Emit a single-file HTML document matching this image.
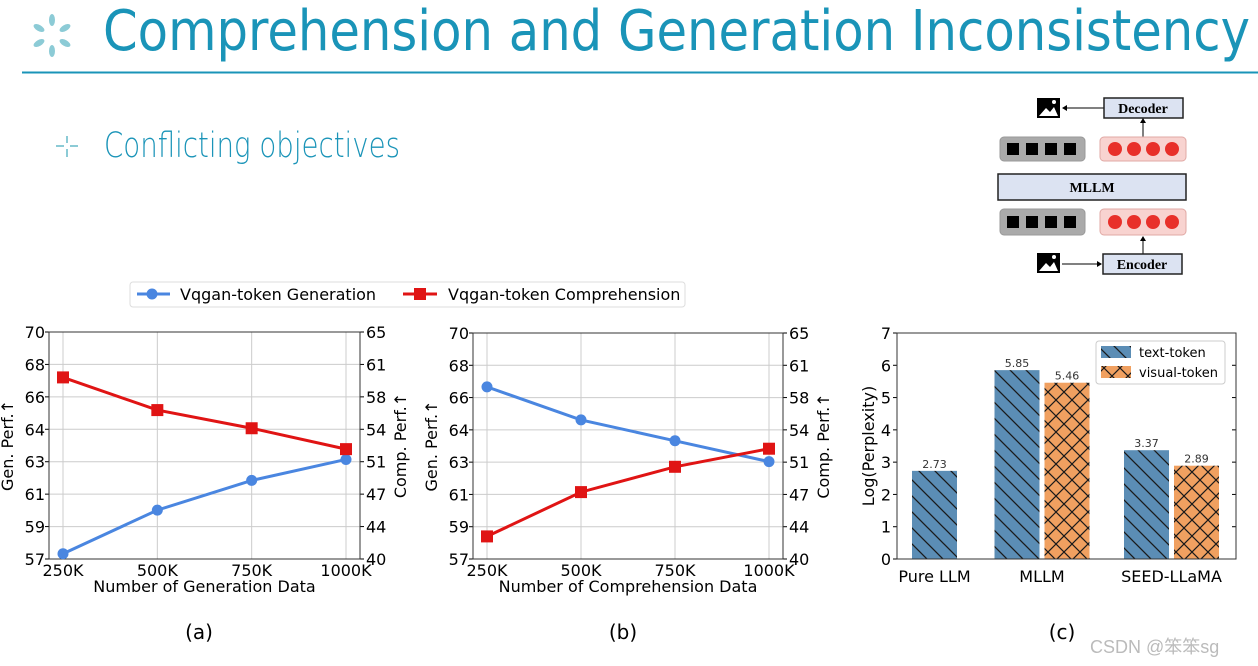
<!DOCTYPE html>
<html><head><meta charset="utf-8">
<style>
body{margin:0;width:1258px;height:666px;background:#fff;overflow:hidden;position:relative;font-family:"Liberation Sans",sans-serif}
.t{position:absolute;color:#1a94b8;white-space:nowrap}
</style></head><body>
<svg id="deco" width="1258" height="666" style="position:absolute;left:0;top:0">
 <g fill="#8ccbd6">
  <ellipse cx="52" cy="20" rx="3" ry="6"/><ellipse cx="52" cy="51" rx="3" ry="6"/>
  <ellipse cx="39" cy="28" rx="6" ry="3" transform="rotate(30 39 28)"/><ellipse cx="65" cy="28" rx="6" ry="3" transform="rotate(-30 65 28)"/>
  <ellipse cx="39" cy="43" rx="6" ry="3" transform="rotate(-30 39 43)"/><ellipse cx="65" cy="43" rx="6" ry="3" transform="rotate(30 65 43)"/>
 </g>
 <text x="103" y="50" font-size="56" fill="#1a94b8" font-family="DejaVu Sans, sans-serif" textLength="1147" lengthAdjust="spacingAndGlyphs">Comprehension and Generation Inconsistency</text>
 <text x="104" y="157" font-size="35" fill="#1a94b8" font-family="DejaVu Sans, sans-serif" font-weight="300" textLength="296" lengthAdjust="spacingAndGlyphs">Conflicting objectives</text>
 <line x1="22" y1="72.5" x2="1258" y2="72.5" stroke="#1a94b8" stroke-width="2"/>
 <g stroke="#8ccbd6" stroke-width="2">
  <line x1="56" y1="146" x2="64" y2="146"/><line x1="70" y1="146" x2="78" y2="146"/><line x1="67" y1="136" x2="67" y2="143"/><line x1="67" y1="149" x2="67" y2="157"/>
 </g>
 <g font-family="Liberation Serif,serif" font-weight="bold" font-size="14">
  <g><rect x="1037" y="98" width="23" height="20" fill="#000"/><path d="M1039 116 L1046 108 L1050 112 L1054 107 L1058 116Z" fill="#fff"/><circle cx="1054" cy="102" r="2" fill="#fff"/></g>
  <line x1="1104" y1="108" x2="1064" y2="108" stroke="#000"/><path d="M1062 108 l5 -3 v6z"/>
  <rect x="1104" y="98" width="79" height="20" fill="#dce3f2" stroke="#222" stroke-width="1.5"/>
  <text x="1143" y="113" text-anchor="middle">Decoder</text>
  <line x1="1143" y1="137" x2="1143" y2="121" stroke="#000"/><path d="M1143 118 l-3 5 h6z"/>
  <rect x="1000" y="137" width="85" height="24" rx="4" fill="#aaa" stroke="#999"/>
  <rect x="1100" y="137" width="86" height="24" rx="4" fill="#f8d3d0" stroke="#e0a8a4"/>
  <rect x="998" y="174" width="188" height="26" fill="#dce3f2" stroke="#222" stroke-width="1.5"/>
  <text x="1092" y="192" text-anchor="middle">MLLM</text>
  <rect x="1000" y="209" width="85" height="26" rx="4" fill="#aaa" stroke="#999"/>
  <rect x="1100" y="209" width="86" height="26" rx="4" fill="#f8d3d0" stroke="#e0a8a4"/>
  <line x1="1143" y1="254" x2="1143" y2="239" stroke="#000"/><path d="M1143 236 l-3 5 h6z"/>
  <rect x="1103" y="254" width="79" height="20" fill="#dce3f2" stroke="#222" stroke-width="1.5"/>
  <text x="1142" y="269" text-anchor="middle">Encoder</text>
  <g><rect x="1037" y="253" width="23" height="20" fill="#000"/><path d="M1039 271 L1046 263 L1050 267 L1054 262 L1058 271Z" fill="#fff"/><circle cx="1054" cy="257" r="2" fill="#fff"/></g>
  <line x1="1062" y1="264" x2="1098" y2="264" stroke="#000"/><path d="M1102 264 l-5 -3 v6z"/>
  <g id="tokens"></g>
 </g>
 <g id="charts"></g>
</svg>
<div class="t" style="left:1090px;top:633px;font-size:18px;color:#bbb;font-family:'Liberation Sans','Noto Sans CJK SC',sans-serif">CSDN @笨笨sg</div>
<script>
const NS='http://www.w3.org/2000/svg';
function el(p,tag,attrs,txt){const e=document.createElementNS(NS,tag);for(const k in attrs)e.setAttribute(k,attrs[k]);if(txt!==undefined)e.textContent=txt;p.appendChild(e);return e;}
const tok=document.getElementById('tokens');
[149,222].forEach(cy=>{for(let i=0;i<4;i++){el(tok,'rect',{x:1007+i*19,y:cy-6,width:12,height:12,fill:'#000'});el(tok,'circle',{cx:1115+i*19,cy:cy,r:7,fill:'#e8302a'});}});

// ---- data ----
const xCats=['250K','500K','750K','1000K'];
const leftTicks=['70','68','66','64','63','61','59','57'];
const rightTicks=['65','61','58','54','51','47','44','40'];
const genA=[57.3,59.8,61.5,62.7];
const compA=[60.0,56.4,54.4,52.1];
const genB=[66.9,65.0,63.8,62.6];
const compB=[42.5,47.4,50.2,52.2];
const barCats=['Pure LLM','MLLM','SEED-LLaMA'];
const textTok=[2.73,5.85,3.37];
const visTok=[null,5.46,2.89];
const barTicks=[0,1,2,3,4,5,6,7];

const C=document.getElementById('charts');
const defs=el(C,'defs',{});
let p=el(defs,'pattern',{id:'hb',width:16,height:16,patternUnits:'userSpaceOnUse'});
el(p,'rect',{width:16,height:16,fill:'#5b8db5'});
el(p,'path',{d:'M-4 -4 L20 20 M-4 12 L4 20 M12 -4 L20 4',stroke:'#1a1a1a','stroke-width':1.3});
p=el(defs,'pattern',{id:'hx',width:16,height:16,patternUnits:'userSpaceOnUse'});
el(p,'rect',{width:16,height:16,fill:'#f0a060'});
el(p,'path',{d:'M0 0 L16 16 M16 0 L0 16',stroke:'#1a1a1a','stroke-width':1.2});

const F='DejaVu Sans, Liberation Sans, sans-serif';
function lineChart(name,L,R,T,B,gen,comp,xlabel,sub,subx){
  const g=el(C,'g',{});
  
  
  const xs=i=>L+14+i*(R-L-28)/(xCats.length-1);
  const yG=v=>T+(70-v)/13*(B-T);
  const yC=v=>T+(65-v)/25*(B-T);
  leftTicks.forEach((t,i)=>{const y=T+i*(B-T)/7;
    el(g,'line',{x1:L,x2:R,y1:y,y2:y,stroke:'#ccc'});
    el(g,'line',{x1:L-4,x2:L,y1:y,y2:y,stroke:'#000'});
    el(g,'line',{x1:R,x2:R+4,y1:y,y2:y,stroke:'#000'});
    el(g,'text',{x:L-4,y:y+6,'text-anchor':'end','font-size':16,'font-family':F},t);
    el(g,'text',{x:R+6,y:y+6,'font-size':16,'font-family':F},rightTicks[i]);});
  xCats.forEach((c,i)=>{const x=xs(i);
    el(g,'line',{x1:x,x2:x,y1:T,y2:B,stroke:'#ccc'});
    el(g,'text',{x:x,y:B+17,'text-anchor':'middle','font-size':16,'font-family':F},c);});
  el(g,'rect',{x:L,y:T,width:R-L,height:B-T,fill:'none',stroke:'#333'});
  const gp=gen.map((v,i)=>xs(i)+','+yG(v)).join(' ');
  const gl=el(g,'polyline',{points:gp,fill:'none',stroke:'#4a86e0','stroke-width':3});
  
  gen.forEach((v,i)=>{const m=el(g,'circle',{cx:xs(i),cy:yG(v),r:5.5,fill:'#4a86e0'});
    });
  const cp=comp.map((v,i)=>xs(i)+','+yC(v)).join(' ');
  const cl=el(g,'polyline',{points:cp,fill:'none',stroke:'#e01414','stroke-width':3});
  
  comp.forEach((v,i)=>{const m=el(g,'rect',{x:xs(i)-6,y:yC(v)-6,width:12,height:12,fill:'#e01414'});
    });
  el(g,'text',{x:(L+R)/2,y:B+33,'text-anchor':'middle','font-size':16,'font-family':F},xlabel);
  el(g,'text',{x:0,y:0,'text-anchor':'middle','font-size':16,'font-family':F,transform:`translate(${L-36},${(T+B)/2}) rotate(-90)`},'Gen. Perf.↑');
  el(g,'text',{x:0,y:0,'text-anchor':'middle','font-size':16,'font-family':F,transform:`translate(${R+46},${(T+B)/2}) rotate(-90)`},'Comp. Perf.↑');
  el(g,'text',{x:subx,y:639,'text-anchor':'middle','font-size':20,'font-family':F},sub);
}
lineChart('chart-a',49,360,332,559,genA,compA,'Number of Generation Data','(a)',199);
lineChart('chart-b',473,783,333,559,genB,compB,'Number of Comprehension Data','(b)',623);

const lg=el(C,'g',{});


el(lg,'rect',{x:130,y:282,width:555,height:25,rx:3,fill:'#fff',stroke:'#ddd'});
el(lg,'line',{x1:137,x2:170,y1:294,y2:294,stroke:'#4a86e0','stroke-width':3});
el(lg,'circle',{cx:152,cy:294,r:5.5,fill:'#4a86e0'});
el(lg,'text',{x:180,y:300,'font-size':16,'font-family':F},'Vqgan-token Generation');
el(lg,'line',{x1:403,x2:437,y1:294,y2:294,stroke:'#e01414','stroke-width':3});
el(lg,'rect',{x:414,y:288,width:12,height:12,fill:'#e01414'});
el(lg,'text',{x:448,y:300,'font-size':16,'font-family':F},'Vqgan-token Comprehension');

(function(){
  const L=897,R=1236,T=333,B=559;
  const g=el(C,'g',{});
  
  
  const y=v=>B-v/7*(B-T);
  const centers=[934.5,1042,1171.5];
  const bw=45;
  barTicks.forEach(t=>{el(g,'line',{x1:L-4,x2:L,y1:y(t),y2:y(t),stroke:'#000'});
    el(g,'line',{x1:R-4,x2:R,y1:y(t),y2:y(t),stroke:'#000'});
    el(g,'text',{x:L-6,y:y(t)+6,'text-anchor':'end','font-size':16,'font-family':F},t);});
  barCats.forEach((c,i)=>{
    const hasV=visTok[i]!==null;
    const xt=hasV?centers[i]-bw-2.5:centers[i]-bw/2;
    const b=el(g,'rect',{x:xt,y:y(textTok[i]),width:bw,height:B-y(textTok[i]),fill:'url(#hb)'});
    
    el(g,'text',{x:xt+bw/2,y:y(textTok[i])-3,'text-anchor':'middle','font-size':11,'font-family':F,fill:'#333'},textTok[i].toFixed(2));
    if(hasV){const xv=centers[i]+2.5;
      const b2=el(g,'rect',{x:xv,y:y(visTok[i]),width:bw,height:B-y(visTok[i]),fill:'url(#hx)'});
      
      el(g,'text',{x:xv+bw/2,y:y(visTok[i])-3,'text-anchor':'middle','font-size':11,'font-family':F,fill:'#333'},visTok[i].toFixed(2));}
    el(g,'text',{x:centers[i],y:B+23,'text-anchor':'middle','font-size':16,'font-family':F},c);
  });
  el(g,'rect',{x:L,y:T,width:R-L,height:B-T,fill:'none',stroke:'#333'});
  el(g,'text',{x:0,y:0,'text-anchor':'middle','font-size':16,'font-family':F,transform:`translate(874,${(T+B)/2}) rotate(-90)`},'Log(Perplexity)');
  const l=el(g,'g',{});
  
  
  el(l,'rect',{x:1096,y:341,width:129,height:43,rx:3,fill:'#fff',stroke:'#ccc'});
  el(l,'rect',{x:1101,y:346,width:30,height:12,fill:'url(#hb)'});
  el(l,'text',{x:1139,y:357,'font-size':13,'font-family':F},'text-token');
  el(l,'rect',{x:1101,y:366,width:30,height:12,fill:'url(#hx)'});
  el(l,'text',{x:1139,y:377,'font-size':13,'font-family':F},'visual-token');
  el(g,'text',{x:1062,y:639,'text-anchor':'middle','font-size':20,'font-family':F},'(c)');
})();
</script>
</body></html>
